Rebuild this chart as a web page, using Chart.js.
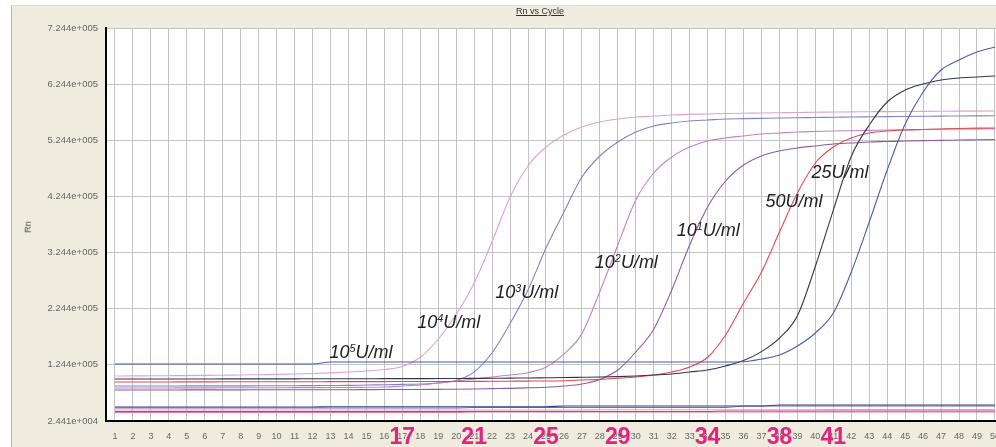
<!DOCTYPE html>
<html>
<head>
<meta charset="utf-8">
<title>Rn vs Cycle</title>
<script src="https://cdn.jsdelivr.net/npm/chart.js@4.4.0/dist/chart.umd.min.js"></script>
<style>
  html, body { margin: 0; padding: 0; background: #fff; width: 996px; height: 447px; overflow: hidden; }
  #panel { position: absolute; left: 11px; top: 5px; width: 985px; height: 442px; background: #efecdf;
           border-left: 1px solid #b9b7ab; border-top: 1px solid #e2dfd2; }
  #chart { position: absolute; left: 0; top: 0; }
  .title { position: absolute; top: 6px; left: 516px; font: 9px 'Liberation Sans', Arial, sans-serif;
           color: #333; text-decoration: underline; }
  .ytitle { position: absolute; left: 22px; top: 222px; font: 9px 'Liberation Sans', Arial, sans-serif;
            color: #444; transform: rotate(-90deg); }
  .mark { position: absolute; top: 425px; transform: translateX(-50%); color: #e3237e;
          font: bold 23px 'Liberation Sans Narrow', 'Liberation Sans', Arial, sans-serif; line-height: 1; }
  .conc { position: absolute; transform: translateY(-50%); color: #222; white-space: nowrap;
          font: italic 18px 'Liberation Sans', Arial, sans-serif; line-height: 1; }
  .conc sup { font-size: 60%; vertical-align: 0.6em; }
</style>
</head>
<body>
<div id="panel"></div>
<canvas id="chart" width="1010" height="447"></canvas>
<div class="title">Rn vs Cycle</div>
<div class="ytitle">Rn</div>
<script>
// cycle numbers along the x axis
const cycles = Array.from({ length: 50 }, (_, i) => String(i + 1));

// y axis ticks (values and the way the instrument prints them)
const yTickValues = [24410, 124400, 224400, 324400, 424400, 524400, 624400, 724400];
const yTickLabels = ['2.441e+004', '1.244e+005', '2.244e+005', '3.244e+005',
                     '4.244e+005', '5.244e+005', '6.244e+005', '7.244e+005'];

// amplification curves, Rn per cycle
const rn1e5 = [104600, 104700, 104900, 105100, 105300, 105600, 106000, 106400, 106900, 107400,
  108100, 109000, 110200, 111700, 113400, 116000, 121500, 138000, 170000, 214000,
  270000, 344000, 423000, 479000, 512400, 533800, 548000, 556900, 562300, 565800,
  567600, 569400, 570500, 571200, 572000, 572600, 573000, 573500, 574000, 574300,
  574700, 575000, 575300, 575500, 575700, 575900, 576100, 576300, 576400, 576500];
const rn1e4 = [86700, 86700, 86800, 86800, 86900, 86900, 87000, 87000, 87100, 87200,
  87300, 87400, 87600, 87800, 88500, 89000, 89600, 90300, 92100, 96500,
  112000, 146000, 198000, 257700, 332500, 396700, 459000, 496400, 521300, 539200,
  549900, 555200, 558700, 560500, 562300, 562900, 563500, 564100, 564600, 565000,
  565500, 565800, 566200, 566600, 566900, 567200, 567500, 567600, 567800, 568000];
const rn1e3 = [83200, 83200, 83300, 83300, 83400, 83400, 83500, 83500, 83600, 83700,
  83800, 83900, 84000, 84200, 84400, 85000, 86700, 88500, 92100, 95700,
  99200, 102800, 106300, 110500, 120000, 143800, 180000, 255000, 337900, 418000,
  466100, 494600, 512400, 523100, 528500, 532000, 535600, 537400, 539200, 540000,
  540900, 541500, 542000, 542700, 543200, 543700, 544100, 544500, 544800, 545100];
const rn1e2 = [79600, 79600, 79700, 79700, 79800, 79800, 79900, 79900, 80000, 80000,
  80100, 80100, 80200, 80200, 80300, 80400, 80500, 80600, 80800, 81000,
  81400, 82000, 82600, 83500, 84500, 86700, 90300, 98500, 115200, 147300,
  188000, 257700, 337900, 405600, 451900, 480300, 496400, 505300, 510700, 514200,
  517800, 519600, 521300, 522200, 523100, 523800, 524300, 524900, 525300, 525700];
const rn1e1 = [93900, 93900, 94000, 94000, 94100, 94100, 94200, 94200, 94300, 94300,
  94400, 94400, 94500, 94500, 94600, 94600, 94700, 94700, 94800, 94900,
  95000, 95100, 95300, 95500, 95700, 96200, 97400, 98500, 100500, 102800,
  106300, 111700, 120600, 138000, 177600, 234600, 289800, 361000, 430500, 483900,
  512400, 528500, 537400, 540900, 542700, 543600, 544500, 545400, 546000, 546300];
const rn50 = [99200, 99200, 99200, 99300, 99300, 99300, 99400, 99400, 99400, 99500,
  99500, 99600, 99600, 99700, 99700, 99800, 99800, 99900, 100000, 100100,
  100300, 100500, 100800, 101000, 101400, 101800, 102300, 102800, 103500, 104600,
  106300, 108100, 111700, 115200, 122400, 132000, 148000, 172000, 212000, 300000,
  400000, 496000, 551600, 592600, 614000, 624700, 631800, 635400, 637100, 638900];
const rn25 = [125900, 125900, 125900, 125900, 125900, 125900, 125900, 125900, 125900, 125900,
  125900, 125900, 129500, 129500, 129500, 129500, 129500, 129500, 129500, 129500,
  129500, 129500, 129500, 129500, 129500, 129500, 129500, 129500, 129500, 129500,
  129500, 129500, 129500, 129500, 129500, 130000, 134800, 142000, 158000, 181200,
  216800, 289800, 378900, 471500, 553400, 610400, 649600, 667400, 681600, 690600];

// flat background / no-template wells
const ntcA = [49300, 49300, 49300, 49300, 49300, 49300, 49300, 49300, 49300, 49300,
  49300, 49300, 49800, 49800, 49800, 49800, 49800, 49800, 49800, 49800,
  49800, 49800, 49800, 49800, 49800, 51100, 51100, 51100, 51100, 51100,
  51100, 51100, 51100, 51100, 51100, 51100, 51100, 52900, 52900, 52900,
  52900, 52900, 52900, 52900, 52900, 52900, 52900, 52900, 52900, 52900];
const ntcB = [47600, 47600, 47600, 47600, 47600, 47600, 47600, 47600, 47600, 47600,
  47600, 47600, 47600, 47600, 47600, 47600, 47600, 47600, 47600, 47600,
  48400, 48400, 48400, 48400, 48400, 48400, 48400, 48400, 48400, 48400,
  48400, 48400, 48400, 48400, 48400, 51100, 51100, 51100, 51100, 51100,
  51100, 51100, 51100, 51100, 51100, 51100, 51100, 51100, 51100, 51100];
const ntcC = [44000, 44000, 44000, 44000, 44000, 44000, 44000, 44000, 44000, 44000,
  44000, 44000, 44000, 44000, 44000, 44000, 44000, 44000, 44000, 44000,
  44000, 44000, 44000, 44000, 44000, 44000, 44000, 44400, 44400, 44400,
  44400, 44400, 44400, 44400, 44400, 44400, 44400, 44400, 44400, 44400,
  44900, 44900, 44900, 44900, 44900, 44900, 44900, 44900, 44900, 44900];
const ntcD = [41300, 41300, 41300, 41300, 41300, 41300, 41300, 41300, 41300, 41300,
  41300, 41300, 41300, 41300, 41300, 41300, 41300, 41300, 41300, 41300,
  41300, 41300, 41300, 41300, 41300, 41300, 41300, 41300, 41300, 41300,
  41300, 41300, 41300, 41300, 42200, 42200, 42200, 42200, 42200, 42200,
  42200, 42200, 42200, 42200, 42200, 42200, 42200, 42200, 42200, 42200];
const ntcE = [39500, 39500, 39500, 39500, 39500, 39500, 39500, 39500, 39500, 39500,
  39500, 39500, 39500, 39500, 39500, 39500, 39500, 39500, 39500, 39500,
  40400, 40400, 40400, 40400, 40400, 40400, 40400, 40400, 40400, 40400,
  40400, 40400, 40400, 40400, 40400, 40400, 40400, 40400, 40400, 40400,
  40400, 40400, 40400, 40400, 40400, 40400, 40400, 40400, 40400, 40400];

// Ct markers under the axis and the concentration labels
const markerCycles = [17, 21, 25, 29, 34, 38, 41];
const concBase = ['10', '10', '10', '10', '10', '50', '25'];
const concExp = ['5', '4', '3', '2', '1', '', ''];
const concCycle = [12.94, 17.83, 22.17, 27.72, 32.28, 37.22, 39.78];
const concValue = [147300, 200700, 254200, 307600, 364600, 416200, 467900];

const series = [
  { data: ntcA, color: '#353f8c' },
  { data: ntcB, color: '#8a64b4' },
  { data: ntcC, color: '#e7a2c2' },
  { data: ntcD, color: '#c2407e' },
  { data: ntcE, color: '#e77a9e' },
  { data: rn25, color: '#4d5aa6' },
  { data: rn50, color: '#34344e' },
  { data: rn1e1, color: '#e5484e' },
  { data: rn1e2, color: '#8c5aa8' },
  { data: rn1e3, color: '#c382c6' },
  { data: rn1e4, color: '#8282c8' },
  { data: rn1e5, color: '#dba3d2' },
];

const plotBackground = {
  id: 'plotBackground',
  beforeDraw(chart) {
    const a = chart.chartArea, ctx = chart.ctx;
    ctx.save();
    ctx.fillStyle = '#fff';
    ctx.fillRect(a.left, a.top, a.right - a.left, a.bottom - a.top);
    ctx.restore();
  }
};

const tickFont = { family: "'Liberation Sans', Arial, sans-serif", size: 9 };

const chart = new Chart(document.getElementById('chart'), {
  type: 'line',
  data: {
    labels: cycles,
    datasets: series.map(s => ({
      data: s.data,
      borderColor: s.color,
      borderWidth: 1.1,
      pointRadius: 0,
      cubicInterpolationMode: 'monotone',
      fill: false,
    })),
  },
  options: {
    responsive: false,
    animation: false,
    events: [],
    layout: { padding: { top: 28, right: 4, left: 0, bottom: 0 } },
    plugins: { legend: { display: false }, tooltip: { enabled: false } },
    scales: {
      x: {
        type: 'category',
        offset: true,
        ticks: { autoSkip: false, maxRotation: 0, color: '#666', font: tickFont, padding: 10 },
        grid: { color: '#c2c2c2', drawTicks: false, offset: false },
        border: { color: '#000', width: 2 },
        afterFit: s => { s.height = 26; },
      },
      y: {
        type: 'linear',
        min: yTickValues[0],
        max: yTickValues[yTickValues.length - 1],
        afterBuildTicks: s => { s.ticks = yTickValues.map(v => ({ value: v })); },
        ticks: { callback: (v, i) => yTickLabels[i], color: '#666',
                 font: { family: tickFont.family, size: 9.5 }, padding: 8 },
        grid: { color: '#c2c2c2', drawTicks: false },
        border: { color: '#000', width: 2 },
        afterFit: s => { s.width = 106; },
      },
    },
  },
  plugins: [plotBackground],
});

const xs = chart.scales.x, ys = chart.scales.y;

markerCycles.forEach(c => {
  const d = document.createElement('div');
  d.className = 'mark';
  d.textContent = c;
  d.style.left = xs.getPixelForValue(c - 1) + 'px';
  document.body.appendChild(d);
});

concBase.forEach((base, i) => {
  const d = document.createElement('div');
  d.className = 'conc';
  d.innerHTML = base + (concExp[i] ? '<sup>' + concExp[i] + '</sup>' : '') + 'U/ml';
  d.style.left = xs.getPixelForValue(concCycle[i] - 1) + 'px';
  d.style.top = ys.getPixelForValue(concValue[i]) + 'px';
  document.body.appendChild(d);
});
</script>
</body>
</html>
